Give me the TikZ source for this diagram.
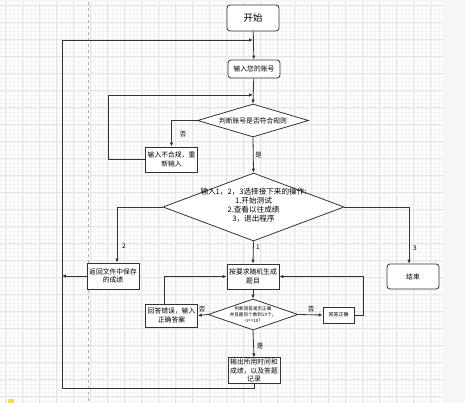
\documentclass[tikz,border=0pt]{standalone}
\usepackage{fontspec}
\newfontfamily\cjk{Noto Sans CJK SC}
\usetikzlibrary{shapes.geometric,arrows.meta}
\definecolor{ln}{HTML}{333333}
\definecolor{gmaj}{HTML}{E6E6E6}
\definecolor{gmin}{HTML}{F4F4F4}
\definecolor{side}{HTML}{F5F6F8}
\tikzset{
  base/.style={draw=ln, line width=0.8pt, fill=white, inner sep=1pt, align=center, font=\cjk\fontsize{6.8}{8.5}\selectfont},
  rbox/.style={base, rounded corners=3pt, minimum width=52, minimum height=25},
  sbox/.style={base, minimum width=52, minimum height=25},
  dia/.style={draw=ln, line width=0.8pt, fill=white, shape=diamond, inner sep=0pt},
  arr/.style={draw=ln, line width=0.8pt, -{Latex[length=4pt,width=3.5pt]}},
  lbl/.style={font=\cjk\fontsize{6.5}{7}\selectfont, inner sep=0.5pt}
}
\begin{document}
\begin{tikzpicture}[x=1pt,y=-1pt]
\useasboundingbox (0,0) rectangle (465,403);
% background
\fill[white] (0,0) rectangle (443,403);
\fill[side] (443,0) rectangle (465,403);
\fill[side] (0,0) rectangle (443,2);
\foreach \i in {0,...,104} {
  \draw[gmin, line width=0.3pt] ({1.45+\i*4.25},2) -- ({1.45+\i*4.25},403);
}
\foreach \i in {0,...,95} {
  \draw[gmin, line width=0.3pt] (0,{5.7+\i*4.25}) -- (443,{5.7+\i*4.25});
}
\foreach \i in {0,...,25} {
  \draw[gmaj, line width=0.6pt] ({5.7+\i*17},2) -- ({5.7+\i*17},403);
}
\foreach \i in {0,...,23} {
  \draw[gmaj, line width=0.6pt] (0,{5.7+\i*17}) -- (443,{5.7+\i*17});
}
\draw[gray!60, dashed, line width=0.4pt] (88,2) -- (88,403);
\fill[yellow!90!orange] (8,399) rectangle (14,403);

% nodes
\node[rbox, minimum width=52, minimum height=26, font=\cjk\fontsize{9.5}{11}\selectfont] (start) at (253,18) {开始};
\node[rbox, minimum height=18] (input) at (254,69) {输入您的账号};
\node[dia, minimum width=111, minimum height=33] (d1) at (253,120.5) {};
\node[base, draw=none, fill=none] (d1t) at (d1) {判断账号是否符合规则};
\node[sbox] (bad) at (171.5,159.5) {输入不合规，重\\新输入};
\node[dia, minimum width=181, minimum height=68] (d2) at (253.5,207) {};
\node[base, draw=none, fill=none, font=\cjk\fontsize{7.6}{9}\selectfont] (d2t) at (253.5,205) {输入1，2，3选择接下来的操作:\\1.开始测试\\2.查看以往成绩\\3，退出程序};
\node[sbox, minimum height=26] (ret) at (113,276) {返回文件中保存\\的成绩};
\node[sbox] (gen) at (253,276.5) {按要求随机生成\\题目};
\node[rbox] (end) at (413,276.5) {结束};
\node[dia, minimum width=90, minimum height=31] (d3) at (253,314.5) {};
\node[base, draw=none, fill=none, font=\cjk\fontsize{4.6}{5.6}\selectfont] (d3t) at (d3) {判断回答是否正确\\并且题目个数到10个，\\n==10?};
\node[sbox, minimum height=23] (wrong) at (171.5,315.5) {回答错误，输入\\正确答案};
\node[sbox, minimum width=31, minimum height=16, font=\cjk\fontsize{5}{6}\selectfont] (right) at (338.5,315) {回答正确};
\node[sbox, minimum height=25] (out) at (254,370.5) {输出所用时间和\\成绩，以及答题\\记录};

% helper coordinates
\coordinate (lb) at (62,388);
\coordinate (lt) at (62,40);
\coordinate (j1) at (253,40);
\coordinate (lm) at (62,276);
\coordinate (b1) at (108,159.5);
\coordinate (b2) at (108,95);
\coordinate (j2) at (253,95);

% connectors
\draw[arr] (start) -- (input);
\draw[arr] (out.south) |- (lb) -- (lt) -- (j1);
\draw[arr] (input) -- (d1.north);
\draw[arr] (d1.west) -| (bad.north);
\draw[arr] (bad.west) -- (b1) -- (b2) -- (j2);
\draw[arr] (d1.south) -- (d2.north);
\draw[arr] (d2.west) -| ([xshift=4pt]ret.north);
\draw[arr] (ret.west) -- (lm);
\draw[arr] (d2.south) -- (gen.north);
\draw[arr] (d2.east) -| ([xshift=-4pt]end.north);
\draw[arr] (gen.south) -- (d3.north);
\draw[arr] (d3.west) -- (wrong.east);
\draw[arr] (d3.east) -- (right.west);
\draw[arr] (d3.south) -- (out.north);
\draw[arr] ([xshift=-7.5pt]wrong.north) |- (gen.west);
\draw[arr] (right.east) -- ++(9,0) |- (gen.east);

% labels
\node[lbl] (l1) at (183,134) {否};
\node[lbl] (l2) at (258.5,155) {是};
\node[lbl] (l3) at (124,246) {2};
\node[lbl] (l4) at (258,247) {1};
\node[lbl] (l5) at (415,248) {3};
\node[lbl] (l6) at (202,309) {否};
\node[lbl] (l7) at (311,309) {否};
\node[lbl] (l8) at (260,346) {是};
\end{tikzpicture}
\end{document}
